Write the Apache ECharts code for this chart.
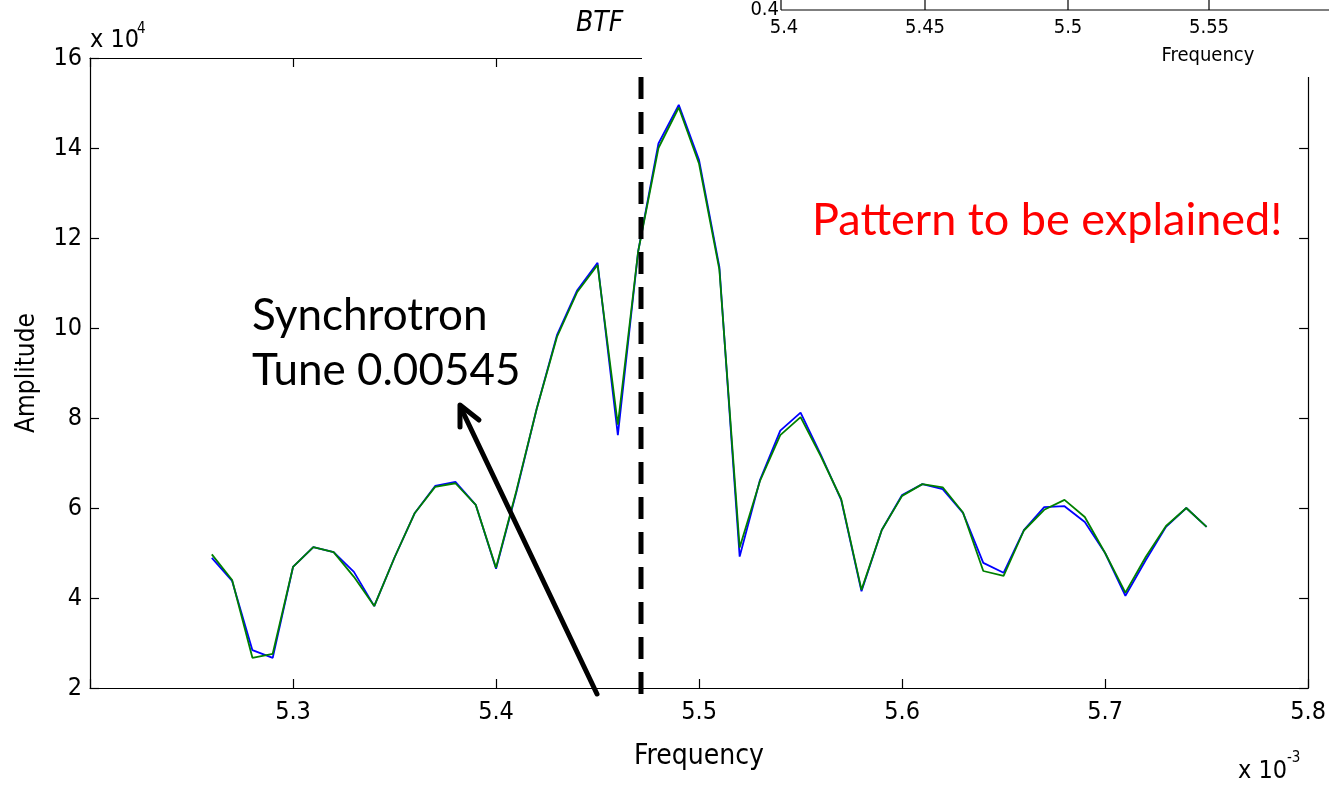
<!DOCTYPE html>
<html>
<head>
<meta charset="utf-8">
<script src="https://cdn.jsdelivr.net/npm/echarts@6/dist/echarts.min.js"></script>
<style>
html,body{margin:0;padding:0;background:#fff;}
#c{width:1329px;height:786px;}
</style>
</head>
<body>
<div id="c"></div>
<script>
// Frequency (x 10^-3)
const frequency = [5.26,5.27,5.28,5.29,5.30,5.31,5.32,5.33,5.34,5.35,5.36,5.37,5.38,5.39,5.40,5.41,5.42,5.43,5.44,5.45,5.46,5.47,5.48,5.49,5.50,5.51,5.52,5.53,5.54,5.55,5.56,5.57,5.58,5.59,5.60,5.61,5.62,5.63,5.64,5.65,5.66,5.67,5.68,5.69,5.70,5.71,5.72,5.73,5.74,5.75];
// Amplitude (x 10^4)
const amplitudeBlue = [4.89,4.38,2.84,2.67,4.69,5.13,5.02,4.58,3.82,4.90,5.89,6.49,6.58,6.07,4.65,6.35,8.20,9.84,10.84,11.45,7.62,11.70,14.10,14.96,13.73,11.36,4.92,6.62,7.72,8.12,7.18,6.18,4.15,5.51,6.29,6.53,6.42,5.89,4.78,4.56,5.51,6.02,6.04,5.69,5.00,4.05,4.84,5.58,6.00,5.58];
const amplitudeGreen = [4.97,4.40,2.67,2.76,4.69,5.13,5.02,4.47,3.82,4.90,5.89,6.47,6.55,6.07,4.67,6.38,8.20,9.80,10.80,11.40,7.85,11.70,14.00,14.90,13.65,11.30,5.12,6.60,7.62,8.02,7.15,6.20,4.18,5.51,6.27,6.53,6.46,5.90,4.60,4.49,5.50,5.96,6.18,5.80,5.00,4.12,4.91,5.60,6.00,5.58];
const xTicks = {min:5.2, max:5.8, interval:0.1};
const yTicks = {min:2, max:16, interval:2};
const insetTickLabels = ['5.4','5.45','5.5','5.55'];

const mFont = "'Liberation Sans Narrow','DejaVu Sans Condensed','Liberation Sans',sans-serif";
const pFont = "Lato,'Open Sans',sans-serif";

const blueData = frequency.map((f,i)=>[f, amplitudeBlue[i]]);
const greenData = frequency.map((f,i)=>[f, amplitudeGreen[i]]);

const chart = echarts.init(document.getElementById('c'));
const axisLine = {show:true, onZero:false, lineStyle:{color:'#000', width:1.2}};
const tick = {show:true, inside:true, length:9, lineStyle:{color:'#000', width:1.2}};

const insetTickX = [784, 925, 1068, 1209];

const graphics = [
  // Title fragment (clipped by overlay)
  {type:'text', z:50, left:576, top:10, style:{text:'BTF', font:'italic 28px '+mFont, fill:'#000'}},
  // white overlay of the pasted inset image
  {type:'rect', z:60, shape:{x:642, y:0, width:700, height:77}, style:{fill:'#fff'}},
  // inset axes
  {type:'line', z:61, shape:{x1:781, y1:10, x2:1329, y2:10}, style:{stroke:'#000', lineWidth:1.2}},
  {type:'line', z:61, shape:{x1:781, y1:0, x2:781, y2:10}, style:{stroke:'#000', lineWidth:1.2}},
  {type:'text', z:61, x:779, y:10, style:{text:'0.4', font:'20px '+mFont, fill:'#000', align:'right', verticalAlign:'middle'}},
  {type:'text', z:61, x:1208, y:56, style:{text:'Frequency', font:'20px '+mFont, fill:'#000', align:'center', verticalAlign:'middle'}},
  // dashed marker line
  {type:'line', z:70, shape:{x1:641, y1:77, x2:641, y2:695}, style:{stroke:'#000', lineWidth:5, lineDash:[22,13]}},
  // arrow
  {type:'polyline', z:70, shape:{points:[[597,694],[461,408]]}, style:{stroke:'#000', lineWidth:5, lineCap:'round'}},
  {type:'polyline', z:70, shape:{points:[[460,427],[460,405],[479,420]]}, style:{stroke:'#000', lineWidth:5, lineCap:'round', lineJoin:'round', fill:null}},
  // annotations
  {type:'text', z:70, left:252, top:294, style:{text:'Synchrotron', font:'44px '+pFont, fill:'#000'}},
  {type:'text', z:70, left:252, top:349, style:{text:'Tune 0.00545', font:'44px '+pFont, fill:'#000'}},
  {type:'text', z:70, left:812, top:198, style:{text:'Pattern to be explained!', font:'45px '+pFont, fill:'#ff0000'}},
  // exponent labels
  {type:'text', z:50, left:90, top:28, style:{text:'x 10', font:'25px '+mFont, fill:'#000'}},
  {type:'text', z:50, left:137, top:22, style:{text:'4', font:'15px '+mFont, fill:'#000'}},
  {type:'text', z:50, left:1238, top:759, style:{text:'x 10', font:'25px '+mFont, fill:'#000'}},
  {type:'text', z:50, left:1287, top:751, style:{text:'-3', font:'15px '+mFont, fill:'#000'}}
];
insetTickX.forEach((x,i)=>{
  if(i>0) graphics.push({type:'line', z:61, shape:{x1:x, y1:0, x2:x, y2:10}, style:{stroke:'#000', lineWidth:1.2}});
  graphics.push({type:'text', z:61, x:x, y:28, style:{text:insetTickLabels[i], font:'20px '+mFont, fill:'#000', align:'center', verticalAlign:'middle'}});
});

chart.setOption({
  animation:false,
  backgroundColor:'#fff',
  grid:{left:90, right:20, top:58, bottom:98, containLabel:false},
  xAxis:[
    {type:'value', min:xTicks.min, max:xTicks.max, interval:xTicks.interval, position:'bottom',
     axisLine:axisLine, axisTick:tick, splitLine:{show:false},
     name:'Frequency', nameLocation:'middle', nameGap:55,
     nameTextStyle:{fontFamily:mFont, fontSize:28, color:'#000'},
     axisLabel:{fontFamily:mFont, fontSize:25, color:'#000', margin:12,
       formatter:v=>Math.abs(v-xTicks.min)<1e-9?'':v.toFixed(1)}},
    {type:'value', min:xTicks.min, max:xTicks.max, interval:xTicks.interval, position:'top',
     axisLine:axisLine, axisTick:tick, axisLabel:{show:false}, splitLine:{show:false}}
  ],
  yAxis:[
    {type:'value', min:yTicks.min, max:yTicks.max, interval:yTicks.interval, position:'left',
     axisLine:axisLine, axisTick:tick, splitLine:{show:false},
     name:'Amplitude', nameLocation:'middle', nameGap:50, nameRotate:90,
     nameTextStyle:{fontFamily:mFont, fontSize:26, color:'#000'},
     axisLabel:{fontFamily:mFont, fontSize:25, color:'#000', margin:8}},
    {type:'value', min:yTicks.min, max:yTicks.max, interval:yTicks.interval, position:'right',
     axisLine:axisLine, axisTick:tick, axisLabel:{show:false}, splitLine:{show:false}}
  ],
  series:[
    {type:'line', name:'blue', data:blueData, xAxisIndex:0, yAxisIndex:0, showSymbol:false, symbol:'none',
     lineStyle:{color:'#0000ff', width:1.8}, z:3},
    {type:'line', name:'green', data:greenData, xAxisIndex:0, yAxisIndex:0, showSymbol:false, symbol:'none',
     lineStyle:{color:'#008000', width:1.8}, z:4}
  ],
  graphic:graphics
});
</script>
</body>
</html>
